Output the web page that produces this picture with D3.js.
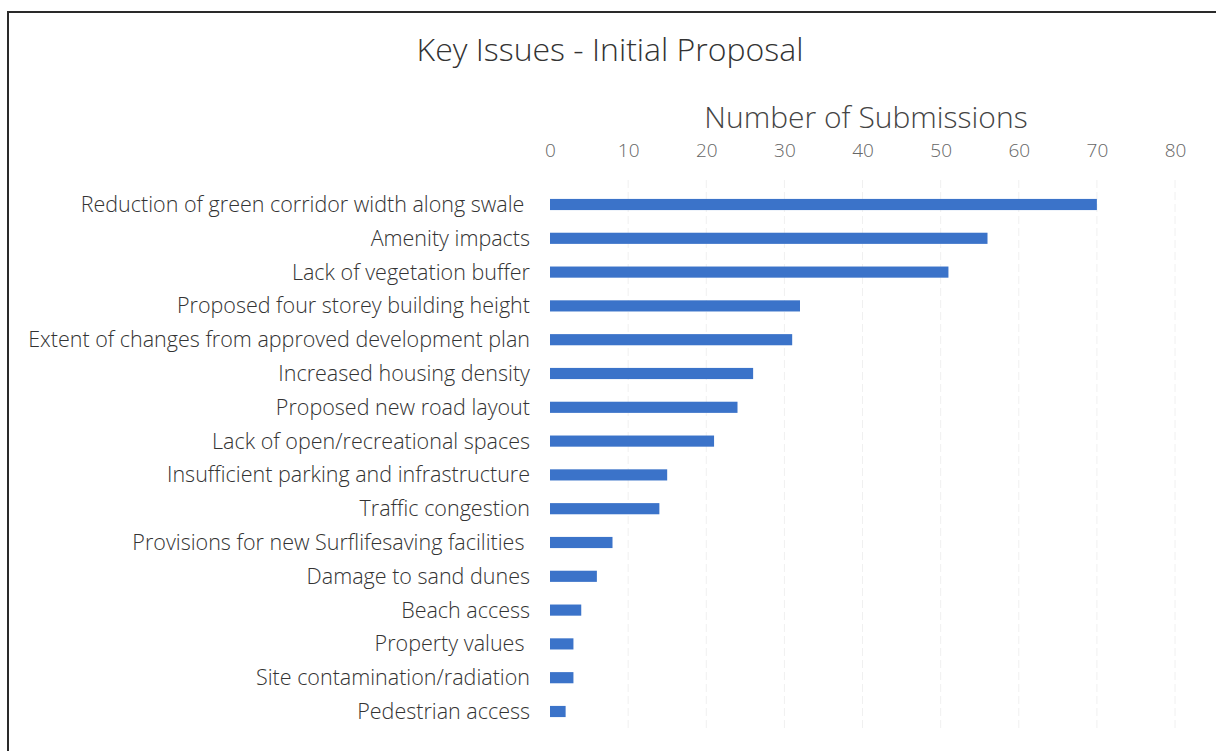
<!DOCTYPE html>
<html><head><meta charset="utf-8">
<script src="https://cdn.jsdelivr.net/npm/d3@7/dist/d3.min.js"></script>
<style>
html,body{margin:0;padding:0;background:#fff;}
svg{display:block;}
text{font-family:"Open Sans","Lato","DejaVu Sans",sans-serif;font-weight:300;}
</style></head>
<body>
<svg id="chart" width="1216" height="751"></svg>
<script>
const categories = [
  "Reduction of green corridor width along swale ",
  "Amenity impacts",
  "Lack of vegetation buffer",
  "Proposed four storey building height",
  "Extent of changes from approved development plan",
  "Increased housing density",
  "Proposed new road layout",
  "Lack of open/recreational spaces",
  "Insufficient parking and infrastructure",
  "Traffic congestion",
  "Provisions for new Surflifesaving facilities ",
  "Damage to sand dunes",
  "Beach access",
  "Property values ",
  "Site contamination/radiation",
  "Pedestrian access"
];
const submissions = [70, 56, 51, 32, 31, 26, 24, 21, 15, 14, 8, 6, 4, 3, 3, 2];
const tickValues = [0, 10, 20, 30, 40, 50, 60, 70, 80];
const chartTitle = "Key Issues - Initial Proposal";
const axisTitle = "Number of Submissions";

const svg = d3.select("#chart");

// frame
svg.append("line").attr("x1", 8).attr("x2", 1216).attr("y1", 12).attr("y2", 12)
  .attr("stroke", "#2a2a2a").attr("stroke-width", 2);
svg.append("line").attr("x1", 8).attr("x2", 8).attr("y1", 11).attr("y2", 751)
  .attr("stroke", "#2a2a2a").attr("stroke-width", 2);

const x = d3.scaleLinear().domain([0, 80]).range([550, 1175]);
const y = d3.scaleBand().domain(categories).range([187.6, 728.4]).padding(0);
const barH = y.bandwidth() * 0.33;

// gridlines
svg.append("g").selectAll("line").data(tickValues.slice(1)).join("line")
  .attr("x1", d => x(d)).attr("x2", d => x(d))
  .attr("y1", 180).attr("y2", 730)
  .attr("stroke", "#f0f0f0").attr("stroke-width", 1)
  .attr("stroke-dasharray", "8,4");

// tick labels (top axis)
const axis = d3.axisTop(x).tickValues(tickValues).tickSize(0).tickPadding(0);
const ag = svg.append("g").attr("transform", "translate(0,157)").call(axis);
ag.select(".domain").remove();
ag.selectAll("text").attr("font-size", 19).attr("fill", "#666")
  .attr("dy", 0).style("font-family", "'Open Sans', Lato, sans-serif").style("font-weight", 300);

// titles
svg.append("text").attr("x", 610).attr("y", 61).attr("text-anchor", "middle")
  .attr("font-size", 32).attr("fill", "#333").text(chartTitle);
svg.append("text").attr("x", 866).attr("y", 128).attr("text-anchor", "middle")
  .attr("font-size", 30).attr("fill", "#444").text(axisTitle);

// bars
svg.append("g").selectAll("rect").data(submissions).join("rect")
  .attr("x", x(0))
  .attr("y", (d, i) => y(categories[i]) + (y.bandwidth() - barH) / 2)
  .attr("width", d => x(d) - x(0))
  .attr("height", barH)
  .attr("fill", "#3b73c9");

// category labels
svg.append("g").selectAll("text").data(categories).join("text")
  .attr("x", 530)
  .attr("y", d => y(d) + y.bandwidth() / 2)
  .attr("dy", "0.35em")
  .attr("text-anchor", "end")
  .attr("font-size", 21.5)
  .attr("fill", "#333")
  .style("white-space", "pre")
  .text(d => d);
</script>
</body></html>
